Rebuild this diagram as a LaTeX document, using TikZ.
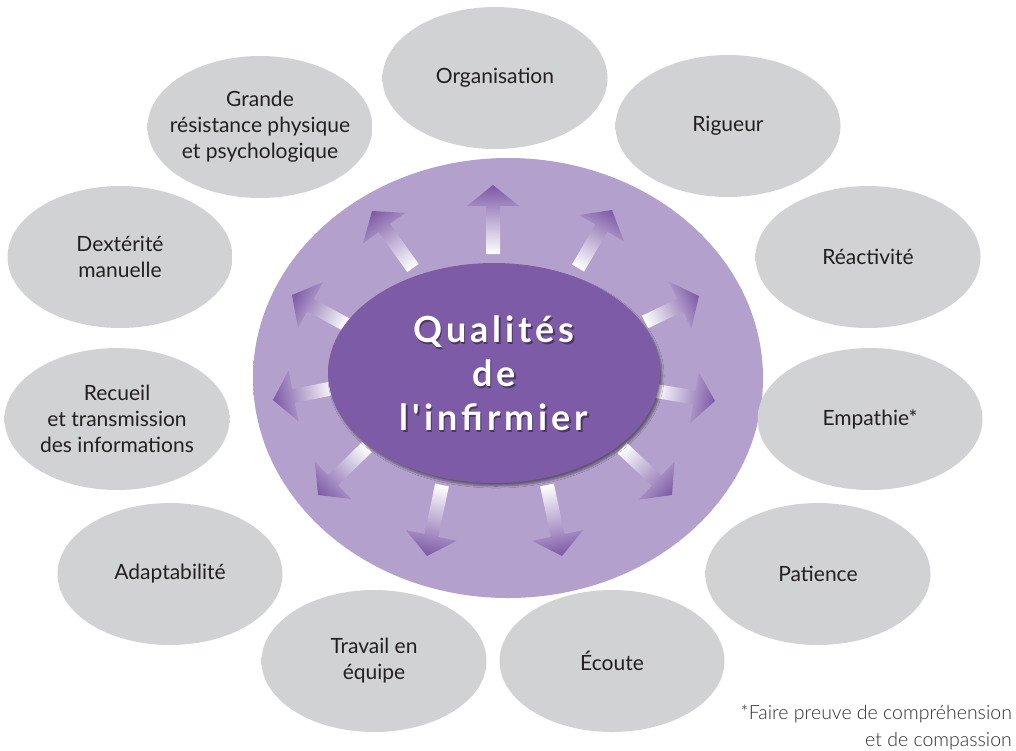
\documentclass[tikz,border=0pt]{standalone}
\usepackage{fontspec}
\setmainfont{Lato}
\newfontfamily\corefont{Lato}[LetterSpace=11,Ligatures=TeXOff]
\newfontfamily\lightfont{Lato Light}
\usetikzlibrary{shapes.geometric,shadows.blur}
\definecolor{lav}{HTML}{B3A0CD}
\definecolor{lavrim}{HTML}{AB93C8}
\definecolor{lavfade}{HTML}{D6CBE6}
\definecolor{corep}{HTML}{7E5BA6}
\definecolor{arrowtip}{HTML}{7B58A5}
\definecolor{bub}{HTML}{D1D2D4}
\definecolor{bubrim}{HTML}{C4C5C7}
\definecolor{bubfade}{HTML}{E6E6E8}
\definecolor{txt}{HTML}{231F20}
\definecolor{notetxt}{HTML}{2E2E30}
\pgfdeclareradialshading{glow}{\pgfpoint{0bp}{0bp}}{color(0bp)=(lav); color(41bp)=(lav); color(44bp)=(lavrim); color(47bp)=(lavfade); color(50bp)=(white)}
\pgfdeclareradialshading{bubshade}{\pgfpoint{0bp}{0bp}}{color(0bp)=(bub); color(45bp)=(bub); color(48bp)=(bubrim); color(50bp)=(bubfade)}
\tikzset{
  bubble/.style={ellipse, shade, shading=bubshade, minimum width=225pt, minimum height=142pt, inner sep=0pt},
  bubtext/.style={align=center, text=txt, inner sep=0pt, font=\fontsize{21}{26}\selectfont},
  coretext/.style={align=center, inner sep=0pt, font=\corefont\bfseries\fontsize{36}{44}\selectfont},
  notestyle/.style={align=right, text=notetxt, inner sep=0pt, font=\lightfont\fontsize{19.5}{27}\selectfont},
}
\newcommand\qarrow[4]{%
  \pgfmathsetmacro\qang{atan2(-(#4-#2),#3-#1)}%
  \pgfmathsetmacro\qlen{veclen(#3-#1,#4-#2)}%
  \begin{scope}[transform canvas={shift={(#1,-#2)},rotate=\qang}]
    \shade[left color=white,right color=arrowtip]
      (0,-7) -- (\qlen-21,-7) -- (\qlen-21,-26) -- (\qlen,0) -- (\qlen-21,26) -- (\qlen-21,7) -- (0,7) -- cycle;
  \end{scope}}
\begin{document}
\begin{tikzpicture}[x=1pt,y=1pt]
\useasboundingbox (0,0) rectangle (1016,-750);
% outer glow
\node (glow) [ellipse, shade, shading=glow, minimum width=510pt, minimum height=440pt, inner sep=0pt] at (508,-378) {};
% bubbles
\node (org)   [bubble] at (495,-78) {};
\node (grande)[bubble] at (260,-127) {};
\node (rig)   [bubble] at (728,-126) {};
\node (dext)  [bubble] at (120,-257) {};
\node (react) [bubble] at (868,-257) {};
\node (rec)   [bubble] at (117,-419) {};
\node (emp)   [bubble] at (870,-419) {};
\node (adapt) [bubble] at (170,-574) {};
\node (pat)   [bubble] at (818,-574) {};
\node (trav)  [bubble] at (374,-661) {};
\node (eco)   [bubble] at (612,-661) {};
\node (orgT)   [bubtext] at (org)    {Organisation};
\node (grandeT)[bubtext] at (grande) {Grande\\résistance physique\\et psychologique};
\node (rigT)   [bubtext] at (rig)    {Rigueur};
\node (dextT)  [bubtext] at (dext)   {Dextérité\\manuelle};
\node (reactT) [bubtext] at (react)  {Réactivité};
\node (recT)   [bubtext] at (rec)    {Recueil\\et transmission\\des informations};
\node (empT)   [bubtext] at (emp)    {Empathie*};
\node (adaptT) [bubtext] at (adapt)  {Adaptabilité};
\node (patT)   [bubtext] at (pat)    {Patience};
\node (travT)  [bubtext] at (trav)   {Travail en\\équipe};
\node (ecoT)   [bubtext] at (eco)    {Écoute};
% arrows
\qarrow{493}{254}{493}{185}
\qarrow{578}{268}{612}{210}
\qarrow{645}{322}{699}{296}
\qarrow{656}{391}{715}{401}
\qarrow{622}{448}{672}{495}
\qarrow{547}{485}{562}{556}
\qarrow{442}{485}{427}{556}
\qarrow{367}{447}{318}{495}
\qarrow{334}{388}{273}{400}
\qarrow{347}{325}{292}{295}
\qarrow{413}{268}{372}{211}
% core
\node (core) [ellipse, fill=corep, minimum width=332pt, minimum height=220pt, inner sep=0pt,
  blur shadow={shadow xshift=2pt, shadow yshift=-3pt, shadow opacity=45, shadow blur steps=8}] at (494,-373) {};
\node (titleS) [coretext, text=black, opacity=0.4] at (495.5,-375) {Qualités\\de\\l'infirmier};
\node (title) [coretext, text=white] at (core) {Qualités\\de\\l'infirmier};
% footnote
\node (note) [notestyle, anchor=east] at (1012,-727) {*Faire preuve de compréhension\\et de compassion};
\end{tikzpicture}
\end{document}
